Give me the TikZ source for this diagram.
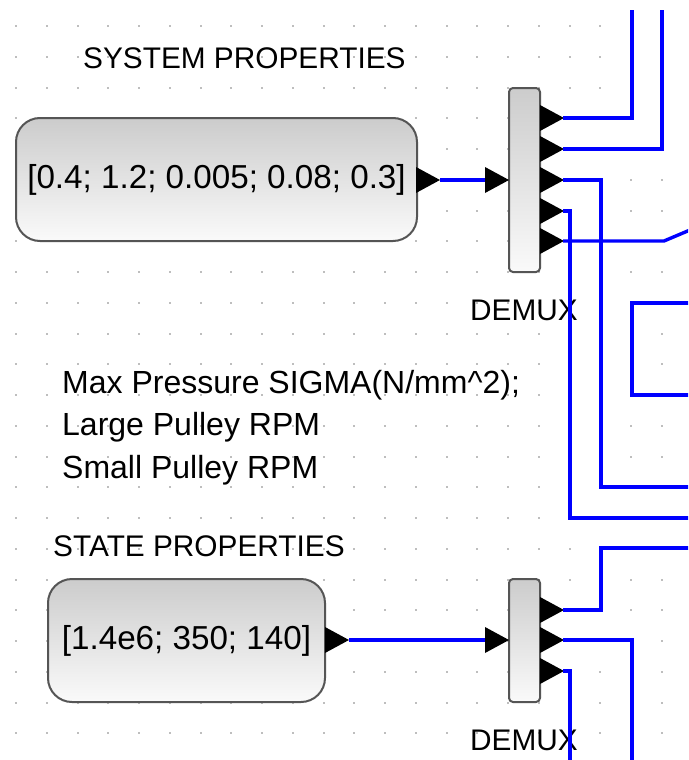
\documentclass[tikz,border=0pt]{standalone}
\usepackage{fontspec}
\setmainfont{Liberation Sans}
\definecolor{wireblue}{RGB}{0,0,255}
\definecolor{griddot}{RGB}{190,190,190}
\definecolor{blockedge}{RGB}{85,85,85}
\definecolor{blocktop}{RGB}{204,204,204}
\definecolor{blockbot}{RGB}{250,250,250}
\tikzset{
  valbox/.style={draw=blockedge,line width=2pt,rounded corners=24pt,
    top color=blocktop,bottom color=blockbot,inner sep=0pt,
    font=\fontsize{33.2}{36}\selectfont},
  demuxbox/.style={draw=blockedge,line width=2pt,rounded corners=4pt,
    top color=blocktop,bottom color=blockbot,inner sep=0pt,minimum width=31pt},
  caption/.style={inner sep=0pt,anchor=base west,font=\fontsize{29.8}{32}\selectfont},
  wire/.style={draw=wireblue,line width=3.4pt},
}
\newcommand\porttri[2]{\fill (#1,#2-13) -- (#1+24,#2) -- (#1,#2+13) -- cycle;}
\begin{document}
\begin{tikzpicture}[x=1pt,y=-1pt]
  \useasboundingbox (0,0) rectangle (688,760);
  \clip (0,0) rectangle (688,760);
  \fill[white] (0,0) rectangle (688,760);
  % grid
  \foreach \i in {0,...,21}
    \foreach \j in {0,...,23}
      \fill[griddot] (16+30.75*\i-1,26+30.75*\j-1) rectangle ++(2,2);

  % blocks
  \node[valbox,minimum width=401pt,minimum height=123pt] (sys) at (216.5,179.5)
    {[0.4; 1.2; 0.005; 0.08; 0.3]};
  \node[valbox,minimum width=277pt,minimum height=123pt] (state) at (186.5,640.5)
    {[1.4e6; 350; 140]};
  \node[demuxbox,minimum height=184pt] (demA) at (524.5,180) {};
  \node[demuxbox,minimum height=123pt] (demB) at (524.5,640.5) {};

  % texts
  \node[caption] (systitle) at (83,68) {SYSTEM PROPERTIES};
  \node[caption] (statetitle) at (53,556.5) {STATE PROPERTIES};
  \node[caption] (demAlbl) at (470,320) {DEMUX};
  \node[caption] (demBlbl) at (470,750) {DEMUX};
  \node[caption,font=\fontsize{32}{42.5}\selectfont,align=left] (notes) at (62,478)
    {Max Pressure SIGMA(N/mm\^{}2);\\Large Pulley RPM\\Small Pulley RPM};

  % ports
  \porttri{416}{180}
  \porttri{325}{640}
  \porttri{485}{180}
  \porttri{485}{640}
  \foreach \y in {118,149,180,211,241} {\porttri{540}{\y}}
  \foreach \y in {610,640,671} {\porttri{540}{\y}}

  \coordinate (sysout) at (440,180);
  \coordinate (demAin) at (485,180);
  \coordinate (stateout) at (349,640);
  \coordinate (demBin) at (485,640);
  \foreach \k/\y in {1/118,2/149,3/180,4/211,5/241}
    \coordinate (a\k) at (563,\y);
  \foreach \k/\y in {1/610,2/640,3/671}
    \coordinate (b\k) at (563,\y);
  \coordinate (top1) at (632,10);
  \coordinate (top2) at (662,10);
  \coordinate (edge3) at (690,487);
  \coordinate (edge4) at (690,518);
  \coordinate (edge5) at (690,230);
  \coordinate (loopA) at (690,303);
  \coordinate (loopB) at (690,395);
  \coordinate (edge6) at (690,548);
  \coordinate (bot2) at (632,762);
  \coordinate (bot3) at (570,762);

  % links
  \draw[wire] (sysout) -- (demAin);
  \draw[wire] (stateout) -- (demBin);
  \draw[wire] (a1) -| (top1);
  \draw[wire] (a2) -| (top2);
  \draw[wire] (a3) -- (601,180) |- (edge3);
  \draw[wire] (a4) -- (570,211) |- (edge4);
  \draw[wire] (a5) -- (664,241) -- (edge5);
  \draw[wire] (loopA) -- (632,303) |- (loopB);
  \draw[wire] (b1) -- (601,610) |- (edge6);
  \draw[wire] (b2) -| (bot2);
  \draw[wire] (b3) -| (bot3);
\end{tikzpicture}
\end{document}
